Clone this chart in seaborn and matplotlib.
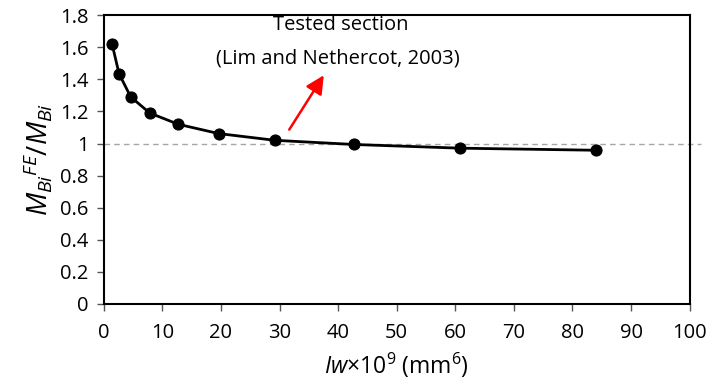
import matplotlib
matplotlib.use("Agg")
import matplotlib.pyplot as plt
import seaborn as sns
import pandas as pd
from matplotlib.ticker import FuncFormatter

sns.set_style("ticks")
plt.rcParams["font.family"] = ["Open Sans", "DejaVu Sans"]
plt.rcParams["mathtext.fontset"] = "custom"
plt.rcParams["mathtext.it"] = "Open Sans:italic"
plt.rcParams["mathtext.rm"] = "Open Sans"
plt.rcParams["text.color"] = "black"
plt.rcParams["axes.labelcolor"] = "black"
plt.rcParams["xtick.color"] = "black"
plt.rcParams["ytick.color"] = "black"

# data
iw = [1.4, 2.6, 4.6, 7.85, 12.7, 19.6, 29.2, 42.7, 60.8, 84.0]
ratio = [1.622, 1.435, 1.29, 1.19, 1.12, 1.062, 1.02, 0.994, 0.971, 0.958]
df = pd.DataFrame({"Iw": iw, "ratio": ratio})

fig = plt.figure(figsize=(7.11, 3.88), dpi=100)
ax = fig.add_axes([0.146, 0.2165, 0.824, 0.7445])

ax.plot([0, 102], [1, 1], ls=(0, (4, 3)), color="#a6a6a6", lw=1, clip_on=False, zorder=1)
sns.lineplot(data=df, x="Iw", y="ratio", ax=ax, color="black", lw=2,
             marker="o", markersize=8, markeredgecolor="black", zorder=3)

ax.annotate("", xy=(37.8, 1.44), xytext=(31.4, 1.072),
            arrowprops=dict(arrowstyle="-|>,head_length=1.1,head_width=0.55",
                            color="red", lw=1.8))
ax.text(40.5, 1.736, "Tested section", ha="center", va="center", fontsize=14.5)
ax.text(40, 1.53, "(Lim and Nethercot, 2003)", ha="center", va="center", fontsize=14.5)

ax.set_xlim(0, 100)
ax.set_ylim(0, 1.8)
ax.set_xticks(range(0, 101, 10))
ax.set_yticks([i * 0.2 for i in range(10)])
ax.yaxis.set_major_formatter(FuncFormatter(lambda v, p: f"{v:.1f}".rstrip("0").rstrip(".") if v else "0"))
ax.tick_params(labelsize=14.5, length=5, width=1, direction="out")
ax.tick_params(axis="x", pad=9)
ax.tick_params(axis="y", pad=6)
ax.tick_params(color="#555555")
for s in ax.spines.values():
    s.set_visible(True)
    s.set_color("black")
    s.set_linewidth(1.5)

ax.set_xlabel(r"$Iw$×10$^{9}$ (mm$^{6}$)", fontsize=16.5, labelpad=5)
ax.set_ylabel(r"$M_{Bi}{}^{FE}/M_{Bi}$", fontsize=20, labelpad=4)

fig.savefig("out.png", dpi=100)
